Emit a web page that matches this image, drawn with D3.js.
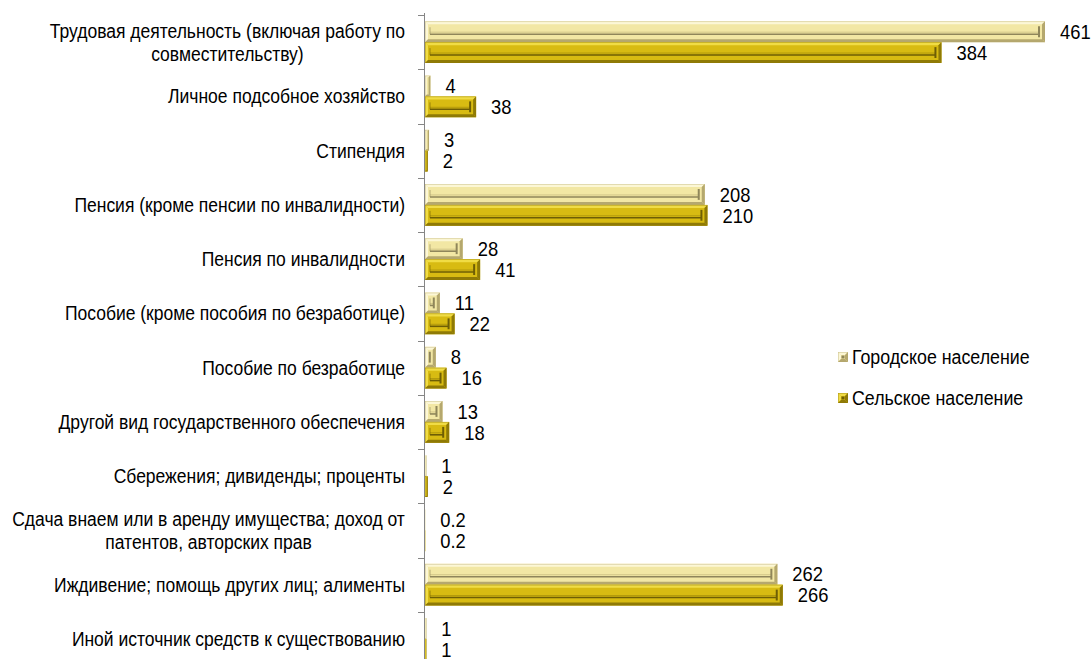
<html>
<head>
<meta charset="utf-8">
<script src="https://d3js.org/d3.v7.min.js"></script>
<style>
  body { margin: 0; background: #fff; }
  svg text { font-family: "Liberation Sans Narrow", "Arial Narrow", "Liberation Sans", Arial, sans-serif; fill: #000; }
</style>
</head>
<body>
<svg width="1092" height="659"></svg>
<script>
  // categories (| marks a line break)
  var categories = [
    "Трудовая деятельность (включая работу по|совместительству)",
    "Личное подсобное хозяйство",
    "Стипендия",
    "Пенсия (кроме пенсии по инвалидности)",
    "Пенсия по инвалидности",
    "Пособие (кроме пособия по безработице)",
    "Пособие по безработице",
    "Другой вид государственного обеспечения",
    "Сбережения; дивиденды; проценты",
    "Сдача внаем или в аренду имущества; доход от|патентов, авторских прав",
    "Иждивение; помощь других лиц; алименты",
    "Иной источник средств к существованию"
  ];
  var urban = [461, 4, 3, 208, 28, 11, 8, 13, 1, 0.2, 262, 1];
  var rural = [384, 38, 2, 210, 41, 22, 16, 18, 2, 0.2, 266, 1];
  var seriesNames = ["Городское население", "Сельское население"];

  var palette = {
    "Городское население": {base: "#f2e7a4", light: "#fcf7d6", dark: "#b5a86e", line: "#8f865a"},
    "Сельское население": {base: "#d8bb12", light: "#f0dc45", dark: "#8f7a06", line: "#6e5e05"}
  };

  var svg = d3.select("svg");
  var x = d3.scaleLinear().domain([0, 461]).range([425, 1045]);
  var y = d3.scaleBand().domain(d3.range(categories.length)).range([15, 666]);
  var ys = d3.scaleBand().domain(seriesNames).range([0, y.bandwidth()]).paddingOuter(0.3);

  // no narrow font installed, so squeeze the text horizontally
  function narrowText(parent, tx, ty, size, sq, anchor) {
    return parent.append("text")
      .attr("transform", "translate(" + tx + "," + ty + ") scale(" + sq + ",1)")
      .attr("font-size", size).attr("text-anchor", anchor || "start");
  }

  // axis
  var axis = svg.append("g");
  axis.append("line").attr("x1", 424.5).attr("x2", 424.5).attr("y1", 13).attr("y2", 659)
    .attr("stroke", "#868686").attr("stroke-width", 1);
  axis.selectAll("line.tk").data(d3.range(categories.length + 1)).enter().append("line")
    .attr("class", "tk")
    .attr("x1", 418).attr("x2", 424)
    .attr("y1", function(d){ return Math.round(15 + d * y.step()) + 0.5; })
    .attr("y2", function(d){ return Math.round(15 + d * y.step()) + 0.5; })
    .attr("stroke", "#868686");

  // category labels, block right-aligned at 405, lines centred inside the block
  var catSq = 0.875;
  categories.forEach(function(c, i) {
    var lines = c.split("|");
    var cy = y(i) + y.bandwidth() / 2;
    var lh = 23;
    var t = narrowText(svg, 0, cy, 20, catSq, "middle");
    lines.forEach(function(l, k) {
      t.append("tspan").attr("x", 0)
        .attr("y", (k - (lines.length - 1) / 2) * lh)
        .attr("dy", "0.35em").text(l);
    });
    var bw = t.node().getBBox().width * catSq;
    t.attr("transform", "translate(" + (405 - bw / 2) + "," + cy + ") scale(" + catSq + ",1)");
  });

  function bevelBar(g, x0, x1, y0, h, p) {
    var w = x1 - x0;
    g.append("rect").attr("x", x0).attr("y", y0).attr("width", w).attr("height", h)
      .attr("fill", p.base);
    var b = Math.min(3, w / 3);
    g.append("polygon").attr("points", [[x0,y0],[x1,y0],[x1-b,y0+b],[x0+b,y0+b]].join(" ")).attr("fill", p.light);
    g.append("polygon").attr("points", [[x0,y0],[x0+b,y0+b],[x0+b,y0+h-b],[x0,y0+h]].join(" ")).attr("fill", p.light);
    g.append("polygon").attr("points", [[x0,y0+h],[x0+b,y0+h-b],[x1-b,y0+h-b],[x1,y0+h]].join(" ")).attr("fill", p.dark);
    g.append("polygon").attr("points", [[x1,y0],[x1,y0+h],[x1-b,y0+h-b],[x1-b,y0+b]].join(" ")).attr("fill", p.dark);
    if (w > 10) {
      // inner groove
      g.append("line").attr("x1", x0 + 5).attr("x2", x1 - 6)
        .attr("y1", y0 + h * 0.62).attr("y2", y0 + h * 0.62)
        .attr("stroke", p.line).attr("stroke-width", 1.6);
      g.append("line").attr("x1", x0 + 5).attr("x2", x1 - 6)
        .attr("y1", y0 + h * 0.62 - 2).attr("y2", y0 + h * 0.62 - 2)
        .attr("stroke", p.dark).attr("stroke-width", 1).attr("opacity", 0.5);
      g.append("line").attr("x1", x1 - 6).attr("x2", x1 - 6)
        .attr("y1", y0 + 5).attr("y2", y0 + h - 5)
        .attr("stroke", p.line).attr("stroke-width", 2);
      g.append("line").attr("x1", x0 + 5).attr("x2", x0 + 5)
        .attr("y1", y0 + 6).attr("y2", y0 + h * 0.62)
        .attr("stroke", p.line).attr("stroke-width", 1).attr("opacity", 0.6);
    }
    if (w > 2) {
      g.append("rect").attr("x", x0 + 0.5).attr("y", y0 + 0.5).attr("width", w - 1).attr("height", h - 1)
        .attr("fill", "none").attr("stroke", p.dark).attr("stroke-width", 0.6).attr("opacity", 0.6);
    }
  }

  var bars = svg.append("g");
  [urban, rural].forEach(function(vals, s) {
    var name = seriesNames[s];
    vals.forEach(function(v, i) {
      var y0 = y(i) + ys(name);
      var h = ys.bandwidth();
      bevelBar(bars.append("g"), x(0), x(v), y0, h, palette[name]);
      narrowText(bars, x(v) + 15, y0 + h / 2, 20, 0.92).attr("dy", "0.36em").text(String(v));
    });
  });

  // legend
  var legY = [357, 398];
  seriesNames.forEach(function(n, k) {
    var g = svg.append("g");
    bevelBar(g, 838, 848, legY[k] - 5, 10, palette[n]);
    g.append("rect").attr("x", 841.5).attr("y", legY[k] - 1.5).attr("width", 3).attr("height", 3).attr("fill", palette[n].line);
    narrowText(svg, 852, legY[k], 20, 0.89).attr("dy", "0.35em").text(n);
  });
</script>
</body>
</html>
